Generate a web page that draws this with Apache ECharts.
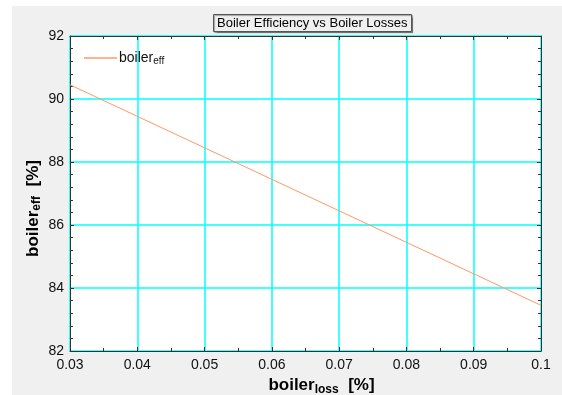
<!DOCTYPE html>
<html>
<head>
<meta charset="utf-8">
<script src="https://cdn.jsdelivr.net/npm/echarts@6/dist/echarts.min.js"></script>
<style>
  html, body { margin: 0; padding: 0; background: #fff; }
  #chart { width: 562px; height: 395px; }
</style>
</head>
<body>
<div id="chart"></div>
<script>
// boiler losses (fraction) vs boiler efficiency (%)
const lossX = [0.03, 0.04, 0.05, 0.06, 0.07, 0.08, 0.09, 0.1];
const effY = [90.45, 89.45, 88.45, 87.45, 86.45, 85.45, 84.45, 83.45];
const titleText = 'Boiler Efficiency vs Boiler Losses';

const frame = '#333';
const labelStyle = { color: '#111', fontSize: 14, fontFamily: 'Liberation Sans, Arial' };

let chart = echarts.init(document.getElementById('chart'));

function axisBase(pos, showLabel, split) {
    return {
        type: 'value',
        position: pos,
        axisLine: { show: true, onZero: false, lineStyle: { color: frame, width: 1 } },
        axisTick: { show: true, inside: true, length: 4, lineStyle: { color: frame } },
        minorTick: { show: true, length: 3, lineStyle: { color: frame } },
        axisLabel: Object.assign({ show: showLabel }, labelStyle),
        splitLine: { show: split, lineStyle: { color: '#00ffff', width: 1.5, opacity: 1 } },
        minorSplitLine: { show: false },
        splitArea: { show: false }
    };
}

let xBottom = axisBase('bottom', true, true);
Object.assign(xBottom, {
    min: 0.03, max: 0.1, interval: 0.01,
    name: 'boiler{sub|loss}  [%]',
    nameLocation: 'middle', nameGap: 21,
    nameTextStyle: {
        color: '#000', fontSize: 17, fontWeight: 'bold', fontFamily: 'Liberation Sans, Arial',
        padding: [0, 0, 0, 32],
        rich: { sub: { fontSize: 12, fontWeight: 'bold', verticalAlign: 'bottom', padding: [8, 0, 0, 0], fontFamily: 'Liberation Sans, Arial' } }
    }
});
xBottom.minorTick.splitNumber = 2;
xBottom.axisLabel.margin = 7;

let xTop = axisBase('top', false, false);
Object.assign(xTop, { min: 0.03, max: 0.1, interval: 0.01 });
xTop.minorTick.splitNumber = 2;

let yLeft = axisBase('left', true, true);
Object.assign(yLeft, {
    min: 82, max: 92, interval: 2,
    name: 'boiler{sub|eff}  [%]',
    nameLocation: 'middle', nameGap: 27, nameRotate: 90,
    nameMoveOverlap: false,
    nameTextStyle: {
        color: '#000', fontSize: 17, fontWeight: 'bold', fontFamily: 'Liberation Sans, Arial',
        padding: [0, 30, 0, 0],
        rich: { sub: { fontSize: 12, fontWeight: 'bold', verticalAlign: 'bottom', padding: [8, 0, 0, 0], fontFamily: 'Liberation Sans, Arial' } }
    }
});
yLeft.minorTick.splitNumber = 5;
yLeft.axisLabel.margin = 6;

let yRight = axisBase('right', false, false);
Object.assign(yRight, { min: 82, max: 92, interval: 2 });
yRight.minorTick.splitNumber = 5;

option = {
    backgroundColor: '#fff',
    animation: false,
    graphic: [
        { type: 'rect', z: -10, shape: { x: 12, y: 6, width: 550, height: 389 }, style: { fill: '#f0f0f0' } },
        { type: 'rect', z: -9, shape: { x: 70, y: 36, width: 471, height: 315 }, style: { fill: '#fff' } }
    ],
    title: {
        text: titleText,
        left: 213, top: 14,
        padding: [3, 4, 2, 4],
        borderColor: '#555', borderWidth: 1,
        backgroundColor: '#f0f0f0',
        shadowColor: 'rgba(0,0,0,0.35)', shadowOffsetX: 1, shadowOffsetY: 1, shadowBlur: 1,
        textStyle: { color: '#000', fontSize: 13, fontWeight: 'normal', fontFamily: 'Liberation Sans, Arial' }
    },
    grid: { left: 70, right: 21, top: 36, bottom: 44, containLabel: false, outerBoundsMode: 'none' },
    legend: {
        left: 84, top: 51, padding: 0,
        itemWidth: 33, itemHeight: 1.5, itemGap: 3,
        icon: 'rect',
        formatter: function () { return 'boiler{sub|eff}'; },
        textStyle: {
            color: '#111', fontSize: 14, fontFamily: 'Liberation Sans, Arial', padding: [0, 0, 0, -3],
            rich: { sub: { fontSize: 10, verticalAlign: 'bottom', padding: [7, 0, 0, 0], fontFamily: 'Liberation Sans, Arial' } }
        }
    },
    xAxis: [xBottom, xTop],
    yAxis: [yLeft, yRight],
    series: [
        {
            name: 'boiler_eff',
            type: 'line',
            data: lossX.map((x, i) => [x, effY[i]]),
            symbol: 'none',
            lineStyle: { color: '#ff9966', width: 1 },
            itemStyle: { color: '#ff9966' }
        }
    ]
};
chart.setOption(option);
</script>
</body>
</html>
